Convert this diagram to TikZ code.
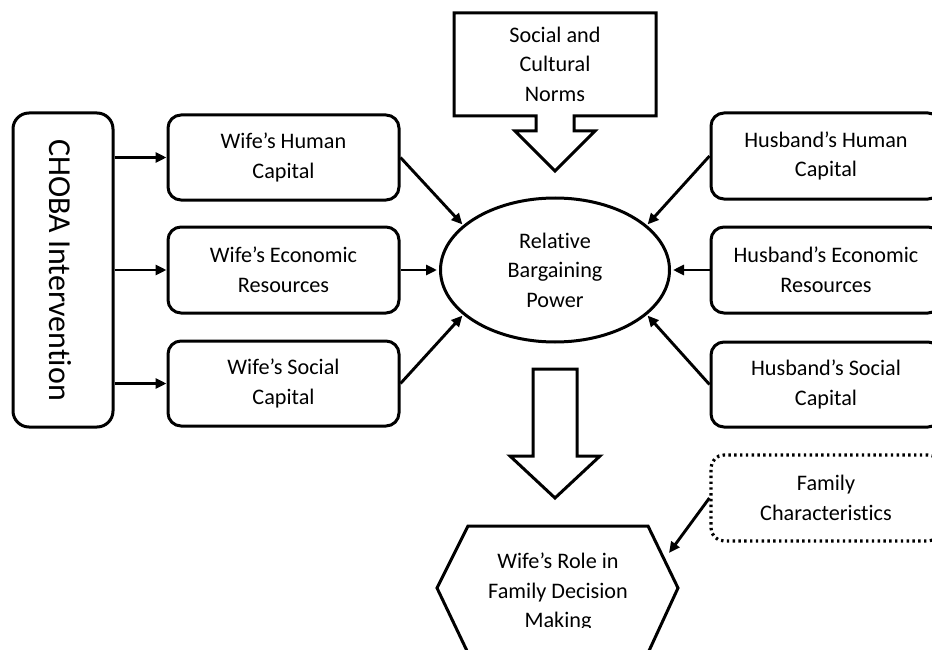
\documentclass[tikz,border=0pt]{standalone}
\usepackage{fontspec}
\setmainfont{Carlito}[Ligatures=NoCommon]
\usetikzlibrary{shapes.geometric,arrows.meta}
\begin{document}
\begin{tikzpicture}[x=1pt,y=-1pt,
  txt/.style={font=\fontsize{22.2}{29.5}\selectfont,align=center,inner sep=0pt},
  box/.style={txt,draw,line width=3pt,rounded corners=13pt,minimum width=231pt,minimum height=85pt},
  fambox/.style={box,line width=3.2pt,dash pattern=on 2.4pt off 3.4pt,rounded corners=13pt},
  conn/.style={line width=2.9pt,-{Triangle[length=11pt,width=10pt]}},
  bigarrow/.style={draw,line width=3pt,line join=miter}]
\useasboundingbox (0,0) rectangle (932,650);
\clip (0,0) rectangle (932,650);
% left
\node[draw,line width=3pt,rounded corners=16pt,minimum width=100pt,minimum height=314pt] (chob) at (63,270) {};
\node[rotate=-90,font=\fontsize{32}{38}\selectfont,inner sep=0pt] (chobt) at (60,270) {CHOBA Intervention};
\node[box] (wh) at (283.5,157.5) {Wife’s Human\\Capital};
\node[box,minimum height=86pt] (we) at (283.5,270) {Wife’s Economic\\Resources};
\node[box] (ws) at (283.5,383.5) {Wife’s Social\\Capital};
% right
\node[box,minimum width=230pt,minimum height=86pt] (hh) at (826,156) {Husband’s Human\\Capital};
\node[box,minimum width=230pt,minimum height=86pt] (he) at (826,270) {Husband’s Economic\\Resources};
\node[box,minimum width=230pt,minimum height=85pt] (hs) at (826,384.5) {Husband’s Social\\Capital};
\node[fambox,minimum width=230pt,minimum height=86pt] (fc) at (826,498) {Family\\Characteristics};
% centre
\node[txt,draw,ellipse,line width=3pt,minimum width=229pt,minimum height=144pt] (ell) at (555,270) {Relative\\Bargaining\\Power};
\draw[bigarrow] (454,13) -- (656,13) -- (656,116) -- (574,116) -- (574,131) -- (595,131) -- (555,171) -- (515,131) -- (536,131) -- (536,116) -- (454,116) -- cycle;
\node[txt] (norms) at (555,64) {Social and\\Cultural\\Norms};
\draw[bigarrow] (533,369) -- (577,369) -- (577,456) -- (600,456) -- (555,498) -- (510,456) -- (533,456) -- cycle;
\draw[bigarrow] (468,526) -- (648,526) -- (678,588) -- (648,653) -- (468,653) -- (437,588) -- cycle;
\begin{scope}
  \clip (420,500) rectangle (700,627);
  \node[txt] (dec) at (558,592.5) {Wife’s Role in\\Family Decision\\Making};
\end{scope}
\coordinate (decin) at (669,553);
% connectors
\draw[conn] (chob.east |- wh.west) -- (wh.west);
\draw[conn] (chob.east |- we.west) -- (we.west);
\draw[conn] (chob.east |- ws.west) -- (ws.west);
\draw[conn,shorten >=1pt] (wh.east) -- (ell.154);
\draw[conn,shorten >=2pt] (we.east) -- (ell.west);
\draw[conn,shorten >=1pt] (ws.east) -- (ell.206);
\draw[conn,shorten >=1pt] (hh.west) -- (ell.26);
\draw[conn,shorten >=2pt] (he.west) -- (ell.east);
\draw[conn,shorten >=1pt] (hs.west) -- (ell.334);
\draw[conn] (fc.west) -- (decin);
\end{tikzpicture}
\end{document}
